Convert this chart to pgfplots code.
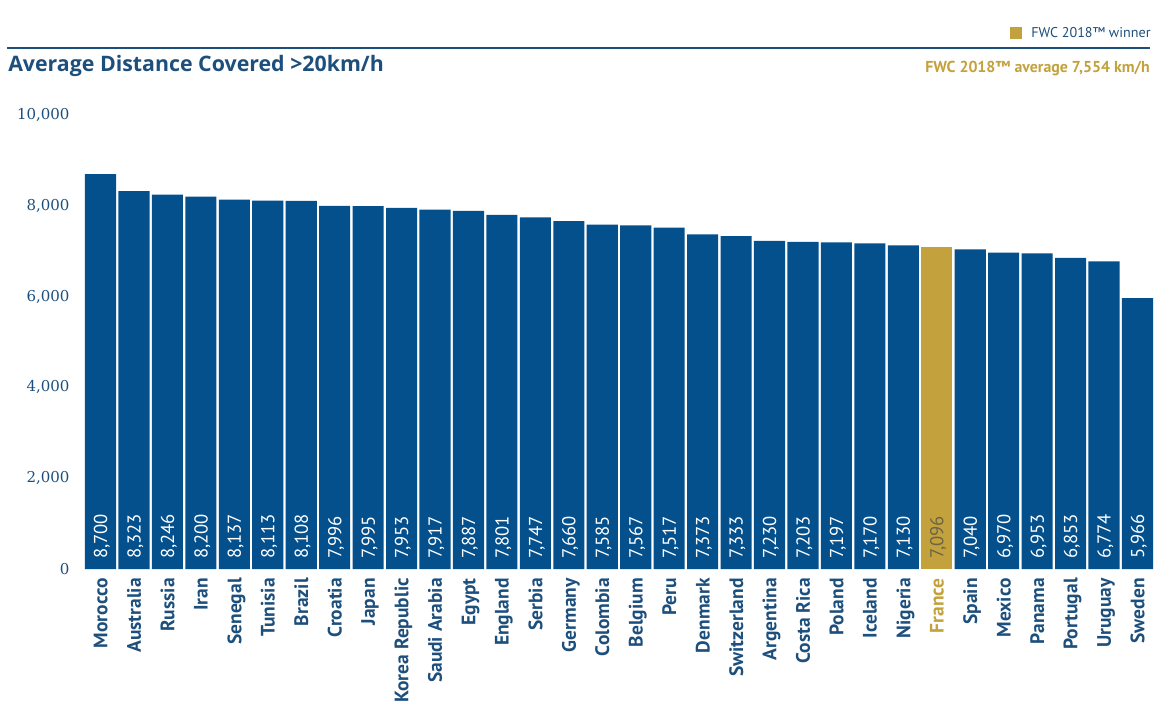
\documentclass[border=0pt]{standalone}
\usepackage{fontspec}
\setmainfont{PT Sans}
\newfontfamily\tickfont{DejaVu Serif}
\newfontfamily\titlefont{Open Sans}
\usepackage{pgfplots}
\usepackage{pgfplotstable}
\pgfplotsset{compat=1.18}
\definecolor{barblue}{HTML}{03508D}
\definecolor{navy}{HTML}{1D4F7D}
\definecolor{gold}{HTML}{C3A13D}
\definecolor{golddark}{HTML}{6B6445}

\pgfplotstableread{
i z v
0 0 8700
1 0 8323
2 0 8246
3 0 8200
4 0 8137
5 0 8113
6 0 8108
7 0 7996
8 0 7995
9 0 7953
10 0 7917
11 0 7887
12 0 7801
13 0 7747
14 0 7660
15 0 7585
16 0 7567
17 0 7517
18 0 7373
19 0 7333
20 0 7230
21 0 7203
22 0 7197
23 0 7170
24 0 7130
26 0 7040
27 0 6970
28 0 6953
29 0 6853
30 0 6774
31 0 5966
}\bluedata

\pgfplotstableread{
i z v
25 0 7096
}\golddata

\begin{document}
\begin{tikzpicture}
\path[use as bounding box] (0pt,0pt) rectangle (872.25pt,531pt);
% header
\draw[navy, line width=1.1pt] (5.25pt,495pt) -- (862.5pt,495pt);
\node[anchor=west, inner sep=0pt, text=navy, font=\fontsize{16pt}{19pt}\selectfont\titlefont\bfseries] at (6pt,481.5pt) {Average Distance Covered >20km/h};
\fill[gold] (757.5pt,501.75pt) rectangle (766.5pt,510.75pt);
\node[anchor=west, inner sep=0pt, text=navy, font=\fontsize{10.6pt}{12pt}\selectfont] at (773.25pt,506.25pt) {FWC 2018™ winner};
\node[anchor=east, inner sep=0pt, text=gold, font=\fontsize{11.9pt}{13pt}\selectfont\bfseries] at (862.5pt,479.25pt) {FWC 2018™ average 7,554 km/h};

\begin{axis}[
  at={(62.85pt,104.25pt)}, anchor=south west,
  scale only axis, width=802.8pt, height=340.5pt,
  xmin=-0.5, xmax=31.5, ymin=0, ymax=10000,
  axis line style={draw=none}, tick style={draw=none},
  scaled y ticks=false,
  xtick={0,...,31},
  xticklabels={Morocco,Australia,Russia,Iran,Senegal,Tunisia,Brazil,Croatia,Japan,Korea Republic,Saudi Arabia,Egypt,England,Serbia,Germany,Colombia,Belgium,Peru,Denmark,Switzerland,Argentina,Costa Rica,Poland,Iceland,Nigeria,\textcolor{gold}{France},Spain,Mexico,Panama,Portugal,Uruguay,Sweden},
  xticklabel style={rotate=90, anchor=east, text depth=0pt, inner sep=0pt, xshift=-6.75pt, yshift=0pt, text=navy, font=\fontsize{14.6pt}{16pt}\selectfont\bfseries},
  ytick={0,2000,4000,6000,8000,10000},
  yticklabel style={text=navy, font=\fontsize{11.25pt}{13pt}\selectfont\tickfont, inner sep=0pt, xshift=-10.5pt},
  /pgf/number format/.cd, 1000 sep={,}, assume math mode=true, /pgfplots/.cd,
  clip=false,
]
\addplot[ybar, bar width=0.93, bar shift=0pt, fill=barblue, draw=none] table[x=i, y=v] {\bluedata};
\addplot[ybar, bar width=0.93, bar shift=0pt, fill=gold, draw=none] table[x=i, y=v] {\golddata};
\addplot[draw=none, mark=none, point meta=explicit,
  nodes near coords={\pgfmathprintnumber[1000 sep={,}]{\pgfplotspointmeta}},
  every node near coord/.append style={rotate=90, anchor=west, text depth=0pt, inner sep=0pt, xshift=7.5pt, yshift=0pt, text=white, font=\fontsize{14pt}{16pt}\selectfont}]
  table[x=i, y=z, meta=v] {\bluedata};
\addplot[draw=none, mark=none, point meta=explicit,
  nodes near coords={\pgfmathprintnumber[1000 sep={,}]{\pgfplotspointmeta}},
  every node near coord/.append style={rotate=90, anchor=west, text depth=0pt, inner sep=0pt, xshift=7.5pt, yshift=0pt, text=golddark, font=\fontsize{14pt}{16pt}\selectfont}]
  table[x=i, y=z, meta=v] {\golddata};
\end{axis}
\end{tikzpicture}
\end{document}
